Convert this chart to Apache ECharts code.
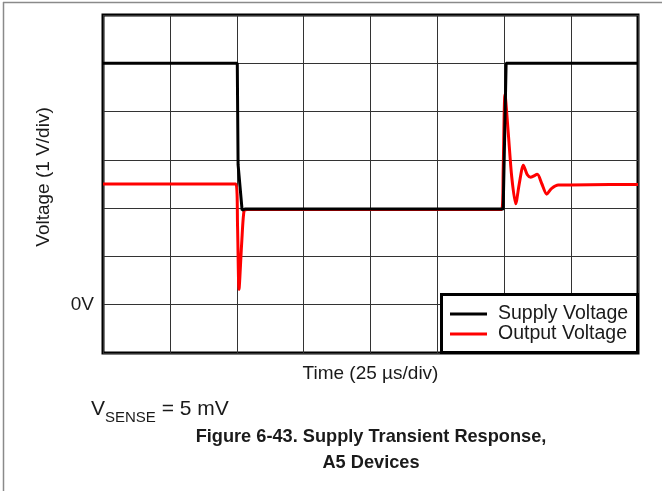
<!DOCTYPE html>
<html>
<head>
<meta charset="utf-8">
<script src="https://cdn.jsdelivr.net/npm/echarts@6/dist/echarts.min.js"></script>
<style>
  html, body { margin: 0; padding: 0; background: #fff; }
  #chart { width: 662px; height: 491px; }
</style>
</head>
<body>
<div id="chart"></div>
<script>
// Time base: 25 µs per division, 8 divisions
const timeMin = 0;
const timeMax = 200;
const timeStep = 25;
// Voltage: 1 V per division, 0 V is one division above the bottom
const voltMin = -1;
const voltMax = 6;
const voltStep = 1;

// Supply voltage trace (µs, V)
const supplyT = [0, 50.2, 50.5, 52.0, 53.0, 149.6, 150.7, 200];
const supplyV = [5.0, 5.0, 2.9, 1.96, 1.98, 1.98, 5.0, 5.0];

// Output voltage trace (µs, V)
const outputT = [0, 49.7, 50.3, 50.84, 51.85, 52.8, 54.0, 149.05, 149.6, 150.28, 151.51, 152.79, 154.28, 155.63, 157.13, 158.62, 159.9, 162.36, 164.0, 165.87, 167.74, 170.2, 174.6, 189.5, 200];
const outputV = [2.50, 2.50, 1.62, 0.32, 1.28, 1.96, 1.97, 1.97, 2.8, 4.36, 3.55, 2.65, 2.09, 2.51, 2.89, 2.69, 2.64, 2.70, 2.51, 2.29, 2.41, 2.48, 2.48, 2.49, 2.49];

const seriesNames = ['Supply Voltage', 'Output Voltage'];
const xTitle = 'Time (25 \u00B5s/div)';
const yTitle = 'Voltage (1 V/div)';
const captionLines = ['Figure 6-43. Supply Transient Response,', 'A5 Devices'];

const pairs = (ts, vs) => ts.map((t, i) => [t, vs[i]]);
const textColor = '#1a1a1a';
const fontFamily = 'Liberation Sans, Arial, sans-serif';

const chart = echarts.init(document.getElementById('chart'), null, { renderer: 'canvas' });

chart.setOption({
  animation: false,
  backgroundColor: '#fff',
  textStyle: { fontFamily: fontFamily },
  grid: {
    left: 103, right: 24, top: 15, bottom: 138,
    show: true, borderColor: '#000', borderWidth: 3, backgroundColor: 'transparent'
  },
  xAxis: {
    type: 'value', min: timeMin, max: timeMax, interval: timeStep,
    axisLine: { show: false }, axisTick: { show: false }, axisLabel: { show: false },
    splitLine: { show: true, lineStyle: { color: '#333', width: 1 } },
    name: xTitle, nameLocation: 'middle', nameGap: 11,
    nameTextStyle: { fontSize: 19, color: textColor, fontFamily: fontFamily }
  },
  yAxis: {
    type: 'value', min: voltMin, max: voltMax, interval: voltStep,
    axisLine: { show: false }, axisTick: { show: false },
    axisLabel: {
      margin: 9, fontSize: 19, color: textColor, fontFamily: fontFamily,
      formatter: v => (v === 0 ? '0V' : '')
    },
    splitLine: { show: true, lineStyle: { color: '#333', width: 1 } },
    name: yTitle, nameLocation: 'middle', nameRotate: 90, nameGap: 50,
    nameTextStyle: { fontSize: 19, color: textColor, fontFamily: fontFamily, padding: [0, 0, 0, 14] }
  },
  legend: {
    data: seriesNames,
    orient: 'vertical', left: 450, top: 304, padding: 0,
    itemGap: 0, itemWidth: 37, itemHeight: 3, icon: 'rect',
    z: 21,
    textStyle: { fontSize: 19.5, color: textColor, fontFamily: fontFamily, padding: [0, 0, 0, 6] }
  },
  series: [
    {
      name: seriesNames[1], type: 'line', data: pairs(outputT, outputV),
      showSymbol: false, smooth: 0.25, color: '#ff0000',
      lineStyle: { color: '#ff0000', width: 3 }, z: 3
    },
    {
      name: seriesNames[0], type: 'line', data: pairs(supplyT, supplyV),
      showSymbol: false, color: '#000',
      lineStyle: { color: '#000', width: 3 }, z: 4
    }
  ],
  graphic: [
    // outer figure frame (top and left edges)
    { type: 'line', shape: { x1: 3, y1: 2.5, x2: 662, y2: 2.5 }, style: { stroke: '#8a8a8a', lineWidth: 1.5 }, z: 1 },
    { type: 'line', shape: { x1: 3.5, y1: 2, x2: 3.5, y2: 491 }, style: { stroke: '#8a8a8a', lineWidth: 1.5 }, z: 1 },
    // legend box
    { type: 'rect', shape: { x: 441.5, y: 294.5, width: 196, height: 58 }, style: { fill: '#fff', stroke: '#000', lineWidth: 3 }, z: 20 },
    // sense voltage note
    {
      type: 'text', left: 91, top: 399, z: 20,
      style: {
        text: '{v|V}{s|SENSE}{v| = 5 mV}',
        rich: {
          v: { fontSize: 21, fill: textColor, fontFamily: fontFamily, verticalAlign: 'bottom' },
          s: { fontSize: 15, fill: textColor, fontFamily: fontFamily, verticalAlign: 'bottom', padding: [0, 0, -5, 0] }
        }
      }
    },
    // caption
    {
      type: 'text', x: 371, y: 437, z: 20,
      style: { text: captionLines[0], fontSize: 18.2, fontWeight: 'bold', fill: textColor, fontFamily: fontFamily, align: 'center', verticalAlign: 'middle' }
    },
    {
      type: 'text', x: 371, y: 463, z: 20,
      style: { text: captionLines[1], fontSize: 18.2, fontWeight: 'bold', fill: textColor, fontFamily: fontFamily, align: 'center', verticalAlign: 'middle' }
    }
  ]
});
</script>
</body>
</html>
